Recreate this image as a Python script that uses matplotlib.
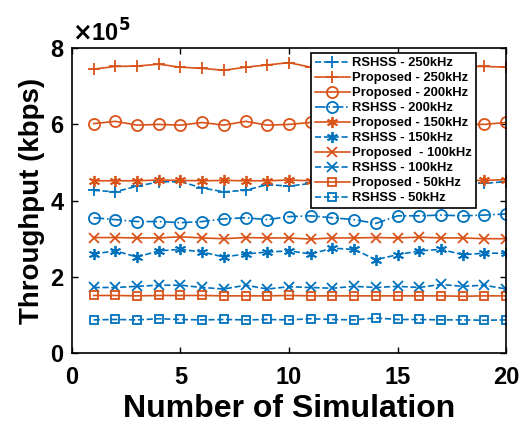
import numpy as np
import matplotlib
matplotlib.use("Agg")
from matplotlib import pyplot as plt
from matplotlib.ticker import FuncFormatter

plt.rcParams['font.family'] = ['Liberation Sans', 'DejaVu Sans']
plt.rcParams['font.weight'] = 'bold'

# Valores em unidades de 1e5 kbps
sim = np.arange(1, 21)

rshss_250 = [4.27, 4.23, 4.38, 4.49, 4.50, 4.33, 4.23, 4.27, 4.42, 4.38,
             4.45, 4.40, 4.45, 4.40, 4.45, 4.42, 4.45, 4.50, 4.45, 4.50]
prop_250 = [7.45, 7.52, 7.53, 7.58, 7.50, 7.47, 7.42, 7.50, 7.56, 7.62,
            7.50, 7.50, 7.48, 7.50, 7.50, 7.52, 7.50, 7.52, 7.52, 7.50]
prop_200 = [6.02, 6.08, 5.98, 6.00, 5.98, 6.05, 5.98, 6.08, 5.98, 6.00,
            6.05, 6.00, 6.02, 5.98, 6.00, 6.02, 6.00, 6.00, 6.00, 6.05]
rshss_200 = [3.55, 3.50, 3.45, 3.45, 3.42, 3.45, 3.52, 3.55, 3.50, 3.58,
             3.60, 3.55, 3.50, 3.40, 3.60, 3.60, 3.62, 3.60, 3.62, 3.65]
prop_150 = [4.52, 4.52, 4.52, 4.54, 4.53, 4.52, 4.53, 4.52, 4.52, 4.54,
            4.52, 4.53, 4.52, 4.52, 4.53, 4.52, 4.52, 4.52, 4.53, 4.55]
rshss_150 = [2.60, 2.68, 2.52, 2.68, 2.72, 2.65, 2.52, 2.60, 2.65, 2.68,
             2.60, 2.75, 2.72, 2.45, 2.58, 2.68, 2.72, 2.58, 2.62, 2.62]
prop_100 = [3.03, 3.03, 3.02, 3.02, 3.05, 3.02, 3.00, 3.03, 3.02, 3.02,
            2.99, 3.02, 3.02, 3.03, 3.02, 3.04, 3.02, 3.02, 3.00, 3.00]
rshss_100 = [1.72, 1.72, 1.75, 1.78, 1.78, 1.72, 1.68, 1.78, 1.68, 1.74,
             1.72, 1.70, 1.75, 1.72, 1.75, 1.72, 1.80, 1.75, 1.78, 1.68]
prop_50 = [1.51, 1.51, 1.50, 1.51, 1.51, 1.51, 1.50, 1.50, 1.50, 1.51,
           1.50, 1.50, 1.50, 1.50, 1.50, 1.50, 1.50, 1.49, 1.50, 1.50]
rshss_50 = [0.87, 0.88, 0.87, 0.90, 0.88, 0.87, 0.88, 0.87, 0.88, 0.87,
            0.90, 0.88, 0.87, 0.92, 0.88, 0.88, 0.87, 0.87, 0.86, 0.87]

azul = '#0072BD'
laranja = '#D95319'
asterisco = (6, 2, 0)  # asterisco estilo MATLAB

series = [
    ('RSHSS - 250kHz', rshss_250, azul, '--', '+', 8),
    ('Proposed - 250kHz', prop_250, laranja, '-', '+', 8),
    ('Proposed - 200kHz', prop_200, laranja, '-', 'o', 8),
    ('RSHSS - 200kHz', rshss_200, azul, '-.', 'o', 8),
    ('Proposed - 150kHz', prop_150, laranja, '-', asterisco, 8),
    ('RSHSS - 150kHz', rshss_150, azul, '--', asterisco, 8),
    ('Proposed  - 100kHz', prop_100, laranja, '-', 'x', 7),
    ('RSHSS - 100kHz', rshss_100, azul, '--', 'x', 7),
    ('Proposed - 50kHz', prop_50, laranja, '-', 's', 6),
    ('RSHSS - 50kHz', rshss_50, azul, '--', 's', 6),
]

fig = plt.figure(figsize=(5.25, 4.3), dpi=100)
ax = fig.add_axes([0.137, 0.179, 0.827, 0.709])

for nome, valores, cor, estilo, marcador, tam in series:
    ax.plot(sim, np.array(valores) * 1e5, color=cor, linestyle=estilo, marker=marcador,
            markersize=tam, markerfacecolor='none',
            markeredgewidth=1.3, linewidth=1.2, label=nome)

ax.set_xlim(0, 20)
ax.set_ylim(0, 8e5)
ax.set_xticks([0, 5, 10, 15, 20])
ax.set_yticks([0, 2e5, 4e5, 6e5, 8e5])
ax.yaxis.set_major_formatter(FuncFormatter(lambda v, p: f"{v / 1e5:.0f}"))
ax.tick_params(labelsize=17, direction='in', length=4, width=1, top=True, right=True)
ax.tick_params(axis='x', pad=9)
ax.tick_params(axis='y', pad=6)
for s in ax.spines.values():
    s.set_linewidth(1.2)

ax.text(0.0, 1.005, r'$\times$10$^{5}$', transform=ax.transAxes, fontsize=17,
        fontweight='bold', ha='left', va='bottom')

ax.set_xlabel('Number of Simulation', fontsize=23, fontweight='bold', labelpad=4)
ax.set_ylabel('Throughput (kbps)', fontsize=20, fontweight='bold', labelpad=4)

leg = ax.legend(loc='upper right', bbox_to_anchor=(0.931, 0.984), fontsize=9.4,
                frameon=True, fancybox=False, edgecolor='black', framealpha=1,
                handlelength=2.7, handletextpad=0.2, labelspacing=0.22,
                borderpad=0.3, borderaxespad=0.0)
leg.get_frame().set_linewidth(1.2)
for t in leg.get_texts():
    t.set_fontweight('bold')

plt.savefig('out.png', dpi=100)
plt.close()
